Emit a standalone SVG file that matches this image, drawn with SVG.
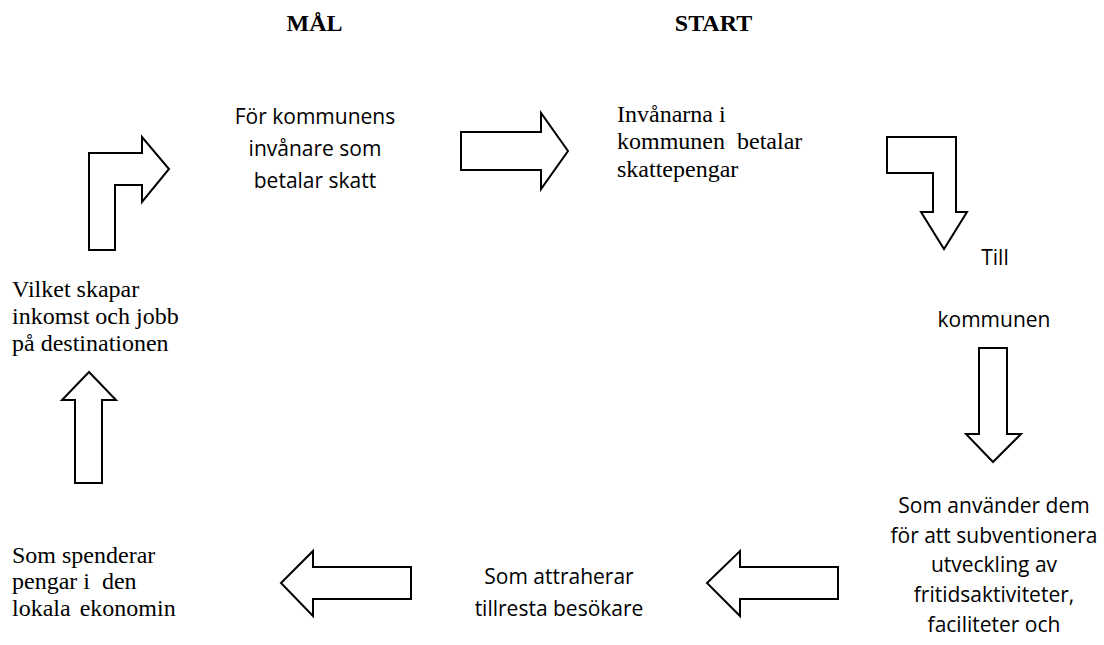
<svg xmlns="http://www.w3.org/2000/svg" width="1104" height="645" viewBox="0 0 1104 645">
<style>
.sans{font-family:"Open Sans","Liberation Sans",sans-serif;font-size:21px;fill:#000}
.serif{font-family:"Liberation Serif","Times New Roman",serif;font-size:24px;fill:#000}
.head{font-family:"Liberation Serif","Times New Roman",serif;font-size:24px;font-weight:bold;fill:#000}
.arrow{fill:#fff;stroke:#000;stroke-width:2;stroke-linejoin:miter}
</style>
<rect width="1104" height="645" fill="#fff"/>
<g id="headers">
<text class="head" x="314.5" y="31" text-anchor="middle">MÅL</text>
<text class="head" x="713.5" y="31" text-anchor="middle">START</text>
</g>
<g id="node-for-kommunens">
<text class="sans" text-anchor="middle"><tspan x="315" y="124">För kommunens</tspan><tspan x="315" y="156">invånare som</tspan><tspan x="315" y="188">betalar skatt</tspan></text>
</g>
<g id="node-invanarna">
<text class="serif"><tspan x="617" y="122">Invånarna i</tspan><tspan x="617" y="149" word-spacing="6">kommunen betalar</tspan><tspan x="617" y="177">skattepengar</tspan></text>
</g>
<g id="node-till">
<text class="sans" x="995" y="265" text-anchor="middle">Till</text>
</g>
<g id="node-kommunen">
<text class="sans" x="994" y="327" text-anchor="middle">kommunen</text>
</g>
<g id="node-som-anvander">
<text class="sans" text-anchor="middle"><tspan x="994" y="513">Som använder dem</tspan><tspan x="994" y="543">för att subventionera</tspan><tspan x="994" y="572">utveckling av</tspan><tspan x="994" y="602">fritidsaktiviteter,</tspan><tspan x="994" y="632">faciliteter och</tspan></text>
</g>
<g id="node-som-attraherar">
<text class="sans" text-anchor="middle"><tspan x="559" y="584">Som attraherar</tspan><tspan x="559" y="616">tillresta besökare</tspan></text>
</g>
<g id="node-som-spenderar">
<text class="serif" xml:space="preserve"><tspan x="12" y="563">Som spenderar</tspan><tspan x="12" y="589">pengar i  den</tspan><tspan x="12" y="616" word-spacing="3">lokala ekonomin</tspan></text>
</g>
<g id="node-vilket-skapar">
<text class="serif"><tspan x="12" y="297">Vilket skapar</tspan><tspan x="12" y="324">inkomst och jobb</tspan><tspan x="12" y="351">på destinationen</tspan></text>
</g>
<g id="connectors">
<polygon class="arrow" points="89,250 89,153 142,153 142,137 169,169 142,202 142,185 115,185 115,250"/>
<polygon class="arrow" points="461,132 541,132 541,113 568,151 541,189 541,170 461,170"/>
<polygon class="arrow" points="887,137 956,137 956,212 967,212 944,249 921,212 933,212 933,173 887,173"/>
<polygon class="arrow" points="979,348 1007,348 1007,434 1021,434 993,462 966,434 979,434"/>
<polygon class="arrow" points="838,567 838,599 740,599 740,616 707,583 740,551 740,567"/>
<polygon class="arrow" points="411,567 411,599 313,599 313,616 281,583 313,551 313,567"/>
<polygon class="arrow" points="89,372 116,400 102,400 102,483 75,483 75,400 62,400"/>
</g>
</svg>
